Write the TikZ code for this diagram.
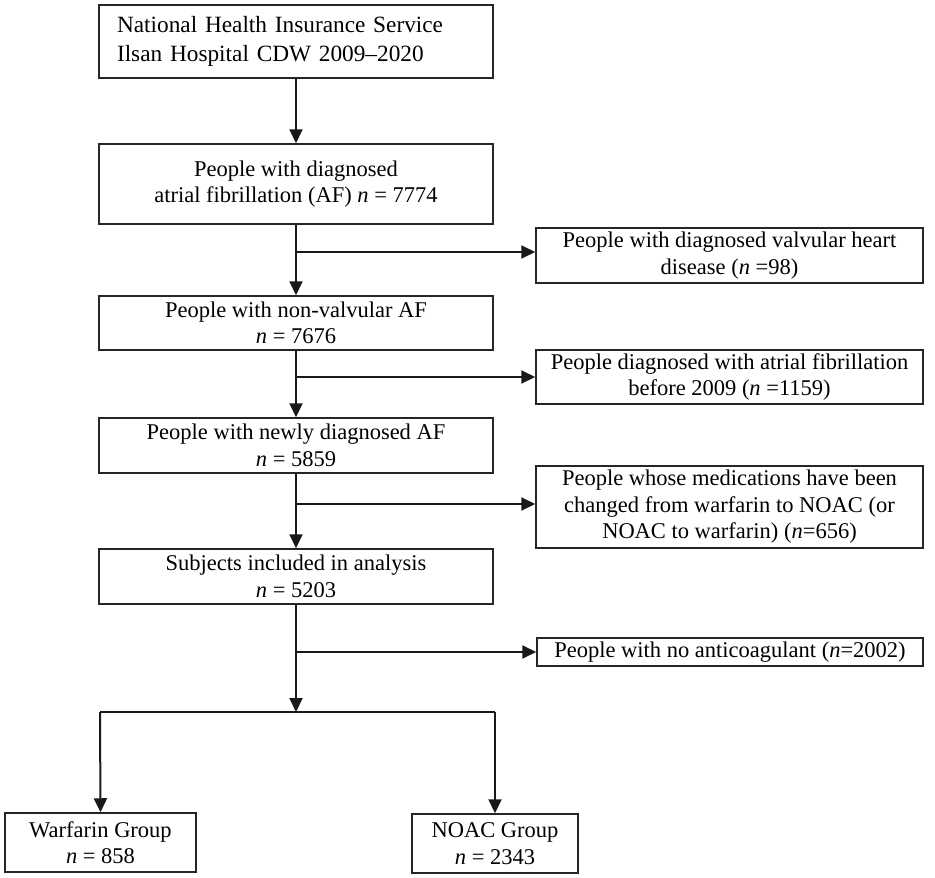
\documentclass[tikz,border=0pt]{standalone}
\usepackage{fontspec}
\setmainfont{Liberation Serif}
\usetikzlibrary{arrows.meta}
\begin{document}
\begin{tikzpicture}[x=1pt,y={(0pt,-1pt)},
  box/.style={draw=black!85, line width=1.5pt, fill=white, align=center,
    inner sep=0pt, font=\fontsize{22.5}{26.5}\selectfont},
  mainbox/.style={box, minimum width=394pt},
  sidebox/.style={box, minimum width=387pt},
  arr/.style={line width=2pt, draw=black!90, -{Triangle[length=14pt,width=13pt]}},
  ln/.style={line width=2pt, draw=black!90}]
\useasboundingbox (0,0) rectangle (935,878);

\node[box, minimum width=394pt, minimum height=73pt, align=left,
  font=\fontsize{23.3}{28.3}\selectfont, text width=358pt, inner xsep=18pt]
  (b1) at (296,41.5) {National Health Insurance Service\\Ilsan Hospital CDW 2009--2020};
\node[mainbox, minimum height=80pt] (b2) at (296,184)
  {People with diagnosed\\atrial fibrillation (AF) \textit{n} = 7774};
\node[mainbox, minimum height=54pt] (b3) at (296,323)
  {People with non-valvular AF\\\textit{n} = 7676};
\node[mainbox, minimum height=55pt] (b4) at (296,445.5)
  {People with newly diagnosed AF\\\textit{n} = 5859};
\node[mainbox, minimum height=55pt] (b5) at (296,576.5)
  {Subjects included in analysis\\\textit{n} = 5203};

\node[sidebox, minimum height=55pt] (r1) at (729.5,255.5)
  {People with diagnosed valvular heart\\disease (\textit{n} =98)};
\node[sidebox, minimum height=54pt] (r2) at (729.5,377)
  {People diagnosed with atrial fibrillation\\before 2009 (\textit{n} =1159)};
\node[sidebox, minimum height=82pt] (r3) at (729.5,507)
  {People whose medications have been\\changed from warfarin to NOAC (or\\NOAC to warfarin) (\textit{n}=656)};
\node[box, minimum width=386pt, minimum height=28pt] (r4) at (730,652)
  {People with no anticoagulant (\textit{n}=2002)};

\node[box, minimum width=191pt, minimum height=59pt] (w) at (100.5,842.5)
  {Warfarin Group\\\textit{n} = 858};
\node[box, minimum width=166pt, minimum height=59pt] (na) at (495,843.5)
  {NOAC Group\\\textit{n} = 2343};

\coordinate (j1) at (296,252);
\coordinate (j2) at (296,377);
\coordinate (j3) at (296,504);
\coordinate (j4) at (296,652);
\coordinate (sp) at (296,712);
\coordinate (spl) at (100,712);
\coordinate (spr) at (495,712);

\draw[arr] (b1.south) -- (b2.north);
\draw[arr] (b2.south) -- (b3.north);
\draw[arr] (b3.south) -- (b4.north);
\draw[arr] (b4.south) -- (b5.north);
\draw[arr] (b5.south) -- (sp);

\draw[arr] (j1) -- (j1 -| r1.west);
\draw[arr] (j2) -- (j2 -| r2.west);
\draw[arr] (j3) -- (j3 -| r3.west);
\draw[arr] (j4) -- (j4 -| r4.west);

\draw[ln] (spl) -- (spr);
\draw[arr] (spl) -- (w.north);
\draw[arr] (spr) -- (na.north);
\end{tikzpicture}
\end{document}
